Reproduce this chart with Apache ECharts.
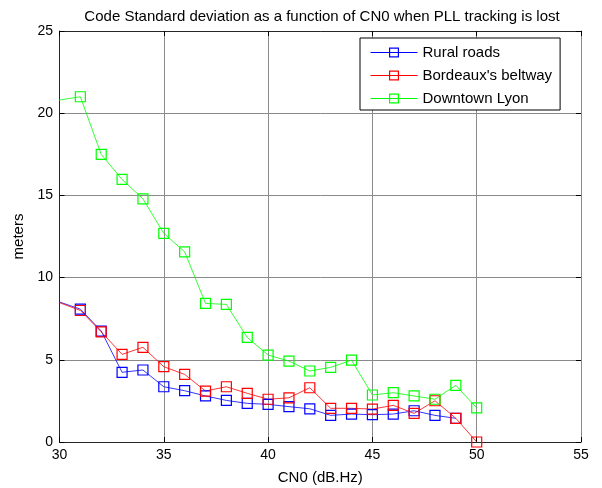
<!DOCTYPE html>
<html><head><meta charset="utf-8">
<script src="https://cdn.jsdelivr.net/npm/echarts@6/dist/echarts.min.js"></script>
<style>html,body{margin:0;padding:0;background:#fff}#c{width:602px;height:488px}</style>
</head><body><div id="c"></div>
<script>
const titleText = "Code Standard deviation as a function of CN0 when PLL tracking is lost";
const xName = "CN0 (dB.Hz)";
const yName = "meters";
const seriesNames = ["Rural roads", "Bordeaux's beltway", "Downtown Lyon"];
const cn0 = [29, 31, 32, 33, 34, 35, 36, 37, 38, 39, 40, 41, 42, 43, 44, 45, 46, 47, 48, 49, 50];
const rural = [8.95, 8.08, 6.75, 4.24, 4.38, 3.36, 3.12, 2.8, 2.53, 2.35, 2.29, 2.15, 2.02, 1.62, 1.7, 1.66, 1.7, 1.9, 1.62, 1.44, null];
const bordeaux = [8.95, 8.0, 6.7, 5.33, 5.76, 4.58, 4.11, 3.1, 3.36, 2.96, 2.6, 2.69, 3.3, 2.05, 2.05, 2.0, 2.23, 1.74, 2.51, 1.44, 0.0];
const lyon = [20.6, 21.0, 17.49, 15.97, 14.79, 12.69, 11.57, 8.43, 8.37, 6.36, 5.29, 4.92, 4.32, 4.54, 4.98, 2.86, 3.0, 2.8, 2.6, 3.45, 2.07];
const colors = ["#0000ff", "#ff0000", "#00ff00"];
const font = "Liberation Sans, Arial, sans-serif";

function pairs(vals){ const out=[]; cn0.forEach((x,i)=>{ if(vals[i]!==null) out.push([x, vals[i]]); }); return out; }
function mk(name, vals, color){
  return {name, type:'line', data:pairs(vals), symbol:'rect', symbolSize:10,
    showSymbol:true, clip:true, color,
    itemStyle:{color:'rgba(0,0,0,0)', borderColor:color, borderWidth:1.2},
    lineStyle:{color, width:0.8}, emphasis:{disabled:true}, animation:false};
}
const chart = echarts.init(document.getElementById('c'), null, {renderer:'canvas'});
const tickStyle = {show:true, inside:true, length:5, lineStyle:{color:'#000'}};
chart.setOption({
  animation:false,
  backgroundColor:'#fff',
  title:{text:titleText, left:317, textAlign:'center', top:4, textStyle:{fontSize:15, fontWeight:'normal', color:'#000', fontFamily:font}},
  grid:{left:59.5, right:21, top:31, bottom:46, show:false, containLabel:false, outerBoundsMode:'none'},
  legend:{data:seriesNames.map((n,i)=>({name:n, lineStyle:{color:colors[i], width:1}, itemStyle:{color:'rgba(0,0,0,0)', borderColor:colors[i], borderWidth:1.2}})),
    orient:'vertical', left:360, top:38,
    backgroundColor:'#fff', borderColor:'#000', borderWidth:1, padding:[7,8,4,10], itemGap:8,
    itemWidth:47, itemHeight:11,
    textStyle:{fontSize:15, lineHeight:15, fontFamily:font, color:'#000'}},
  xAxis:[
    {type:'value', min:30, max:55, interval:5, position:'bottom',
      axisLine:{show:true, onZero:false, lineStyle:{color:'#262626', width:1}}, axisTick:tickStyle,
      name:xName, nameLocation:'middle', nameGap:28, nameTextStyle:{fontSize:15, fontFamily:font, color:'#000'},
      axisLabel:{color:'#000', fontSize:14, fontFamily:font, margin:6},
      splitLine:{show:true, lineStyle:{color:'#8a8a8a', width:1}}},
    {type:'value', min:30, max:55, interval:5, position:'top',
      axisLine:{show:true, onZero:false, lineStyle:{color:'#262626', width:1}}, axisTick:tickStyle,
      axisLabel:{show:false}, splitLine:{show:false}}
  ],
  yAxis:[
    {type:'value', min:0, max:25, interval:5, position:'left',
      axisLine:{show:true, onZero:false, lineStyle:{color:'#262626', width:1}}, axisTick:tickStyle,
      name:yName, nameLocation:'middle', nameGap:32, nameTextStyle:{fontSize:15, fontFamily:font, color:'#000'},
      axisLabel:{color:'#000', fontSize:14, fontFamily:font, margin:6.5},
      splitLine:{show:true, lineStyle:{color:'#8a8a8a', width:1}}},
    {type:'value', min:0, max:25, interval:5, position:'right',
      axisLine:{show:true, onZero:false, lineStyle:{color:'#8a8a8a', width:1}}, axisTick:tickStyle,
      axisLabel:{show:false}, splitLine:{show:false}}
  ],
  series:[mk(seriesNames[0], rural, colors[0]), mk(seriesNames[1], bordeaux, colors[1]), mk(seriesNames[2], lyon, colors[2])]
});
</script></body></html>
